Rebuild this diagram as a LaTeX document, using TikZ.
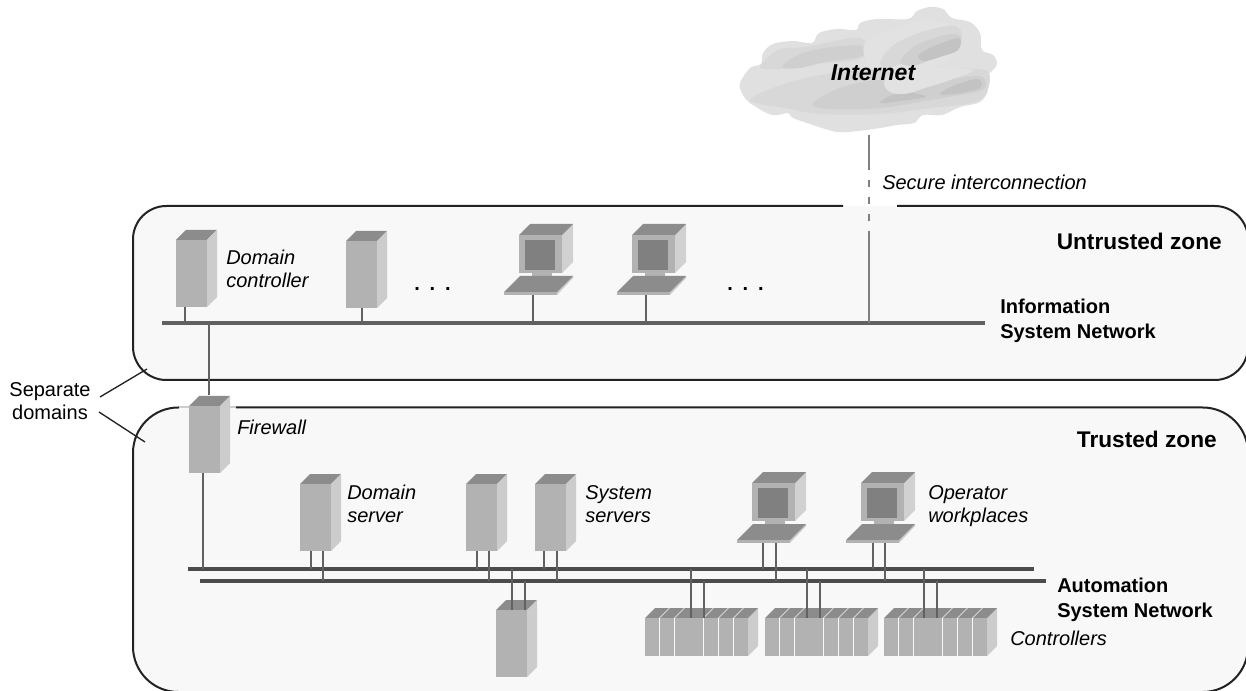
\documentclass[tikz,border=0pt]{standalone}
\usepackage{fontspec}
\setmainfont{Liberation Sans}
\definecolor{zonefill}{HTML}{F8F8F8}
\definecolor{zoneline}{HTML}{222222}
\definecolor{fronthw}{HTML}{B2B2B2}
\definecolor{tophw}{HTML}{8C8C8C}
\definecolor{sidehw}{HTML}{CCCCCC}
\tikzset{
  zoneedge/.style={draw=zoneline,line width=1.5pt},
  front/.style={fill=fronthw,draw=none,inner sep=0pt,outer sep=0pt,rectangle,anchor=north west},
  buslineU/.style={fill=black!62,inner sep=0pt,outer sep=0pt,rectangle,minimum height=3.2pt},
  buslineL/.style={fill=black!70,inner sep=0pt,outer sep=0pt,rectangle,minimum height=3.2pt},
  linkline/.style={draw=black!62,line width=1.7pt},
  itlabel/.style={anchor=west,align=left,inner sep=0pt,font=\fontsize{15}{17.25}\selectfont\itshape},
  bflabel/.style={anchor=west,align=left,inner sep=0pt,font=\fontsize{15}{18.5}\selectfont\bfseries},
  zonelabel/.style={anchor=east,inner sep=0pt,font=\fontsize{17}{20}\selectfont\bfseries},
  dotslabel/.style={anchor=west,inner sep=0pt,font=\fontsize{15}{18}\selectfont\bfseries},
}
\definecolor{cloudA}{HTML}{E0E0E0}
\definecolor{cloudB}{HTML}{D8D8D8}
\definecolor{cloudC}{HTML}{CFCFCF}
\definecolor{cloudD}{HTML}{C3C3C3}
\definecolor{cloudE}{HTML}{E2E2E2}
\newcommand\cloudpart[2]{\fill[#1] plot[smooth cycle,tension=.55] coordinates {#2};}
% name, x, y (top-left of the front face)
\newcommand\serverbox[3]{%
  \begin{scope}[shift={(#2,#3)}]
    \fill[tophw] (0,0) -- (10,-10) -- (41,-10) -- (31,0) -- cycle;
    \fill[sidehw] (31,0) -- (41,-10) -- (41,57) -- (31,67) -- cycle;
    \node[front,minimum width=23.25pt,minimum height=50.25pt] (#1) at (0,0) {};
  \end{scope}}
% name, x, y of the monitor's top-left
\newcommand\pcbox[3]{%
  \begin{scope}[shift={(#2,#3)}]
    \fill[sidehw!90!white] (43,0) -- (54,-11) -- (54,27) -- (43,38) -- cycle;
    \fill[tophw] (0,0) -- (11,-11) -- (54,-11) -- (43,0) -- cycle;
    \fill[fronthw] (0,0) rectangle (43,38);
    \fill[black!50] (6,5) rectangle (36,35);
    \fill[fronthw] (13,38) rectangle (33,41);
    \fill[sidehw] (38,57) -- (54,41) -- (54,43) -- (38,60) -- cycle;
    \fill[tophw] (1,41) -- (54,41) -- (38,57) -- (-15,57) -- cycle;
    \node[front,minimum width=39.75pt,minimum height=2.25pt] (#1) at (-15,57) {};
  \end{scope}}
% name, x, y of the front's top-left
\newcommand\rackbox[3]{%
  \begin{scope}[shift={(#2,#3)}]
    \fill[sidehw] (103,0) -- (113,-10) -- (113,28) -- (103,38) -- cycle;
    \fill[tophw] (0,0) -- (10,-10) -- (113,-10) -- (103,0) -- cycle;
    \node[front,minimum width=77.25pt,minimum height=28.5pt] (#1) at (0,0) {};
    \foreach \q/\r in {14.5/24.5,29.5/39.5,58.5/68.5,73.5/83.5,88.5/98.5}
      \draw[zonefill,line width=.5pt] (\q,38) -- (\q,0) -- (\r,-10);
  \end{scope}}
% x-offset in px, device, bus
\newcommand\linkdev[3]{\draw[linkline] ([xshift=#1*.75pt]#2.south west) -- ([xshift=#1*.75pt]#2.south west |- #3.center);}
\newcommand\linkup[3]{\draw[linkline] ([xshift=#1*.75pt]#2.north west) -- ([xshift=#1*.75pt]#2.north west |- #3.center);}
\begin{document}
\begin{tikzpicture}[x=.75pt,y=-.75pt]
\useasboundingbox (0,0) rectangle (1246,691);
\clip (0,0) rectangle (1246,691);
\fill[white] (0,0) rectangle (1246,691);

% zones
\fill[zonefill,rounded corners=25pt] (133,206) rectangle (1248,380);
\draw[zoneedge,rounded corners=25pt] (897,206) -- (1248,206) -- (1248,380) -- (133,380) -- (133,206) -- (843,206);
\fill[zonefill,rounded corners=34pt] (133,407.5) rectangle (1248,692);
\draw[zoneedge,rounded corners=34pt] (236,407.5) -- (1248,407.5) -- (1248,692) -- (133,692) -- (133,407.5) -- (179,407.5);
\draw[sidehw,line width=1.5pt] (179,407.5) -- (236,407.5);

% separate domains leaders
\node[anchor=center,align=center,inner sep=0pt,font=\fontsize{15}{17.25}\selectfont] (sep) at (50,401) {Separate\\domains};
\coordinate (sepA) at (100,397);
\coordinate (sepB) at (147,369);
\coordinate (sepC) at (99,412);
\coordinate (sepD) at (145,442);
\draw[zoneedge,line width=1pt] (sepA) -- (sepB);
\draw[zoneedge,line width=1pt] (sepC) -- (sepD);

% buses
\node[buslineU,minimum width=617.25pt] (isn) at (573.5,323) {};
\node[buslineL,minimum width=634.5pt] (asn1) at (611,569) {};
\node[buslineL,minimum width=634.5pt] (asn2) at (623,581) {};

% cloud
\cloudpart{cloudA}{(740,83) (750,68) (761,64) (763,53) (773,44) (793,41) (812,43) (819,33) (837,29) (856,30) (860,23) (877,19) (908,19) (917,11) (930,7) (943,9) (952,18) (970,22) (980,33) (982,50) (993,55) (997,64) (990,73) (983,80) (988,90) (980,102) (960,107) (942,115) (923,115) (914,123) (897,125) (880,128) (858,131) (837,132) (813,125) (793,118) (788,113) (772,115) (750,103) (742,93)}
\cloudpart{cloudB}{(760,68) (778,50) (805,47) (860,38) (862,58) (815,64) (790,68)}
\cloudpart{cloudC}{(782,67) (800,54) (832,47) (862,46) (862,56) (825,62) (800,68)}
\cloudpart{cloudB}{(750,100) (790,82) (840,72) (885,70) (905,84) (950,70) (988,72) (980,100) (930,108) (880,114) (820,114) (785,108)}
\cloudpart{cloudC}{(812,104) (840,88) (880,80) (915,90) (940,82) (980,76) (982,90) (930,100) (880,108) (830,109)}
\cloudpart{cloudD}{(880,103) (892,95) (912,93) (926,97) (900,101)}
\cloudpart{cloudD}{(940,94) (955,85) (978,79) (980,88) (955,94)}
\cloudpart{cloudE}{(864,55) (866,42) (885,32) (920,20) (948,24) (958,40) (948,60) (925,70) (895,72) (872,68)}
\cloudpart{cloudE}{(884,82) (898,70) (930,68) (972,70) (950,80) (925,88) (905,94) (890,92)}
\cloudpart{cloudB}{(880,62) (895,44) (925,31) (955,26) (962,38) (950,50) (925,56) (905,62) (888,68)}
\cloudpart{cloudC}{(900,62) (915,46) (945,35) (960,36) (958,50) (940,56) (925,62) (912,66)}
\cloudpart{cloudD}{(918,56) (932,47) (959,38) (958,50) (940,57) (925,61)}
\node[inner sep=0pt,font=\fontsize{17.25}{20}\selectfont\bfseries\itshape] (inet) at (873,73) {Internet};
\coordinate (cloudfoot) at (869,135);

% internet line
\draw[draw=black!50,line width=1.7pt,dash pattern=on 26.25pt off 7.5pt on 5.25pt off 7.5pt on 5.25pt off 7.5pt on 5.25pt off 7.5pt on 80pt] (cloudfoot) -- (cloudfoot |- isn.center);

% devices
\serverbox{dc}{176}{240}
\serverbox{sa}{346}{241}
\pcbox{pa}{519}{235}
\pcbox{pb}{632}{235}
\serverbox{fw}{189}{406}
\serverbox{ds}{300}{484}
\serverbox{ss1}{466}{484}
\serverbox{ss2}{535}{484}
\pcbox{pc}{752}{483}
\pcbox{pd}{861}{483}
\serverbox{bs}{496}{610}
\rackbox{ra}{645}{618}
\rackbox{rb}{765}{618}
\rackbox{rc}{884}{618}

% connectors
\linkdev{9}{dc}{isn}
\linkdev{16}{sa}{isn}
\linkdev{29}{pa}{isn}
\linkdev{29}{pb}{isn}
\draw[linkline] ([xshift=20*.75pt,yshift=8.25pt]fw.north west) -- ([xshift=20*.75pt]fw.north west |- isn.center);
\linkdev{11}{ds}{asn1}
\linkdev{23}{ds}{asn2}
\linkdev{11}{ss1}{asn1}
\linkdev{23}{ss1}{asn2}
\linkdev{9}{ss2}{asn1}
\linkdev{22}{ss2}{asn2}
\linkdev{14}{fw}{asn1}
\linkdev{26}{pc}{asn1}
\linkdev{39}{pc}{asn2}
\linkdev{27}{pd}{asn1}
\linkdev{39}{pd}{asn2}
\linkup{16}{bs}{asn1}
\linkup{29}{bs}{asn2}
\linkup{46}{ra}{asn1}
\linkup{59}{ra}{asn2}
\linkup{42}{rb}{asn1}
\linkup{55}{rb}{asn2}
\linkup{40}{rc}{asn1}
\linkup{53}{rc}{asn2}

% labels
\node[itlabel] (tdc) at (226,269) {Domain\\controller};
\node[itlabel] (tfw) at (237,427) {Firewall};
\node[itlabel] (tds) at (347,504) {Domain\\server};
\node[itlabel] (tss) at (585,504) {System\\servers};
\node[itlabel] (top) at (928,506) {Operator\\workplaces};
\node[itlabel] (tct) at (1010,638) {Controllers};
\node[itlabel] (tsec) at (882,182) {Secure interconnection};
\node[bflabel] (tis) at (1000,321) {Information\\System Network};
\node[bflabel] (tas) at (1057,600) {Automation\\System Network};
\node[zonelabel] (tun) at (1222,241) {Untrusted zone};
\node[zonelabel] (ttr) at (1217,439) {Trusted zone};
\node[dotslabel] (d1) at (414,289) {.\hspace{7.4pt}.\hspace{7.4pt}.};
\node[dotslabel] (d2) at (727,289) {.\hspace{7.4pt}.\hspace{7.4pt}.};
\end{tikzpicture}
\end{document}
